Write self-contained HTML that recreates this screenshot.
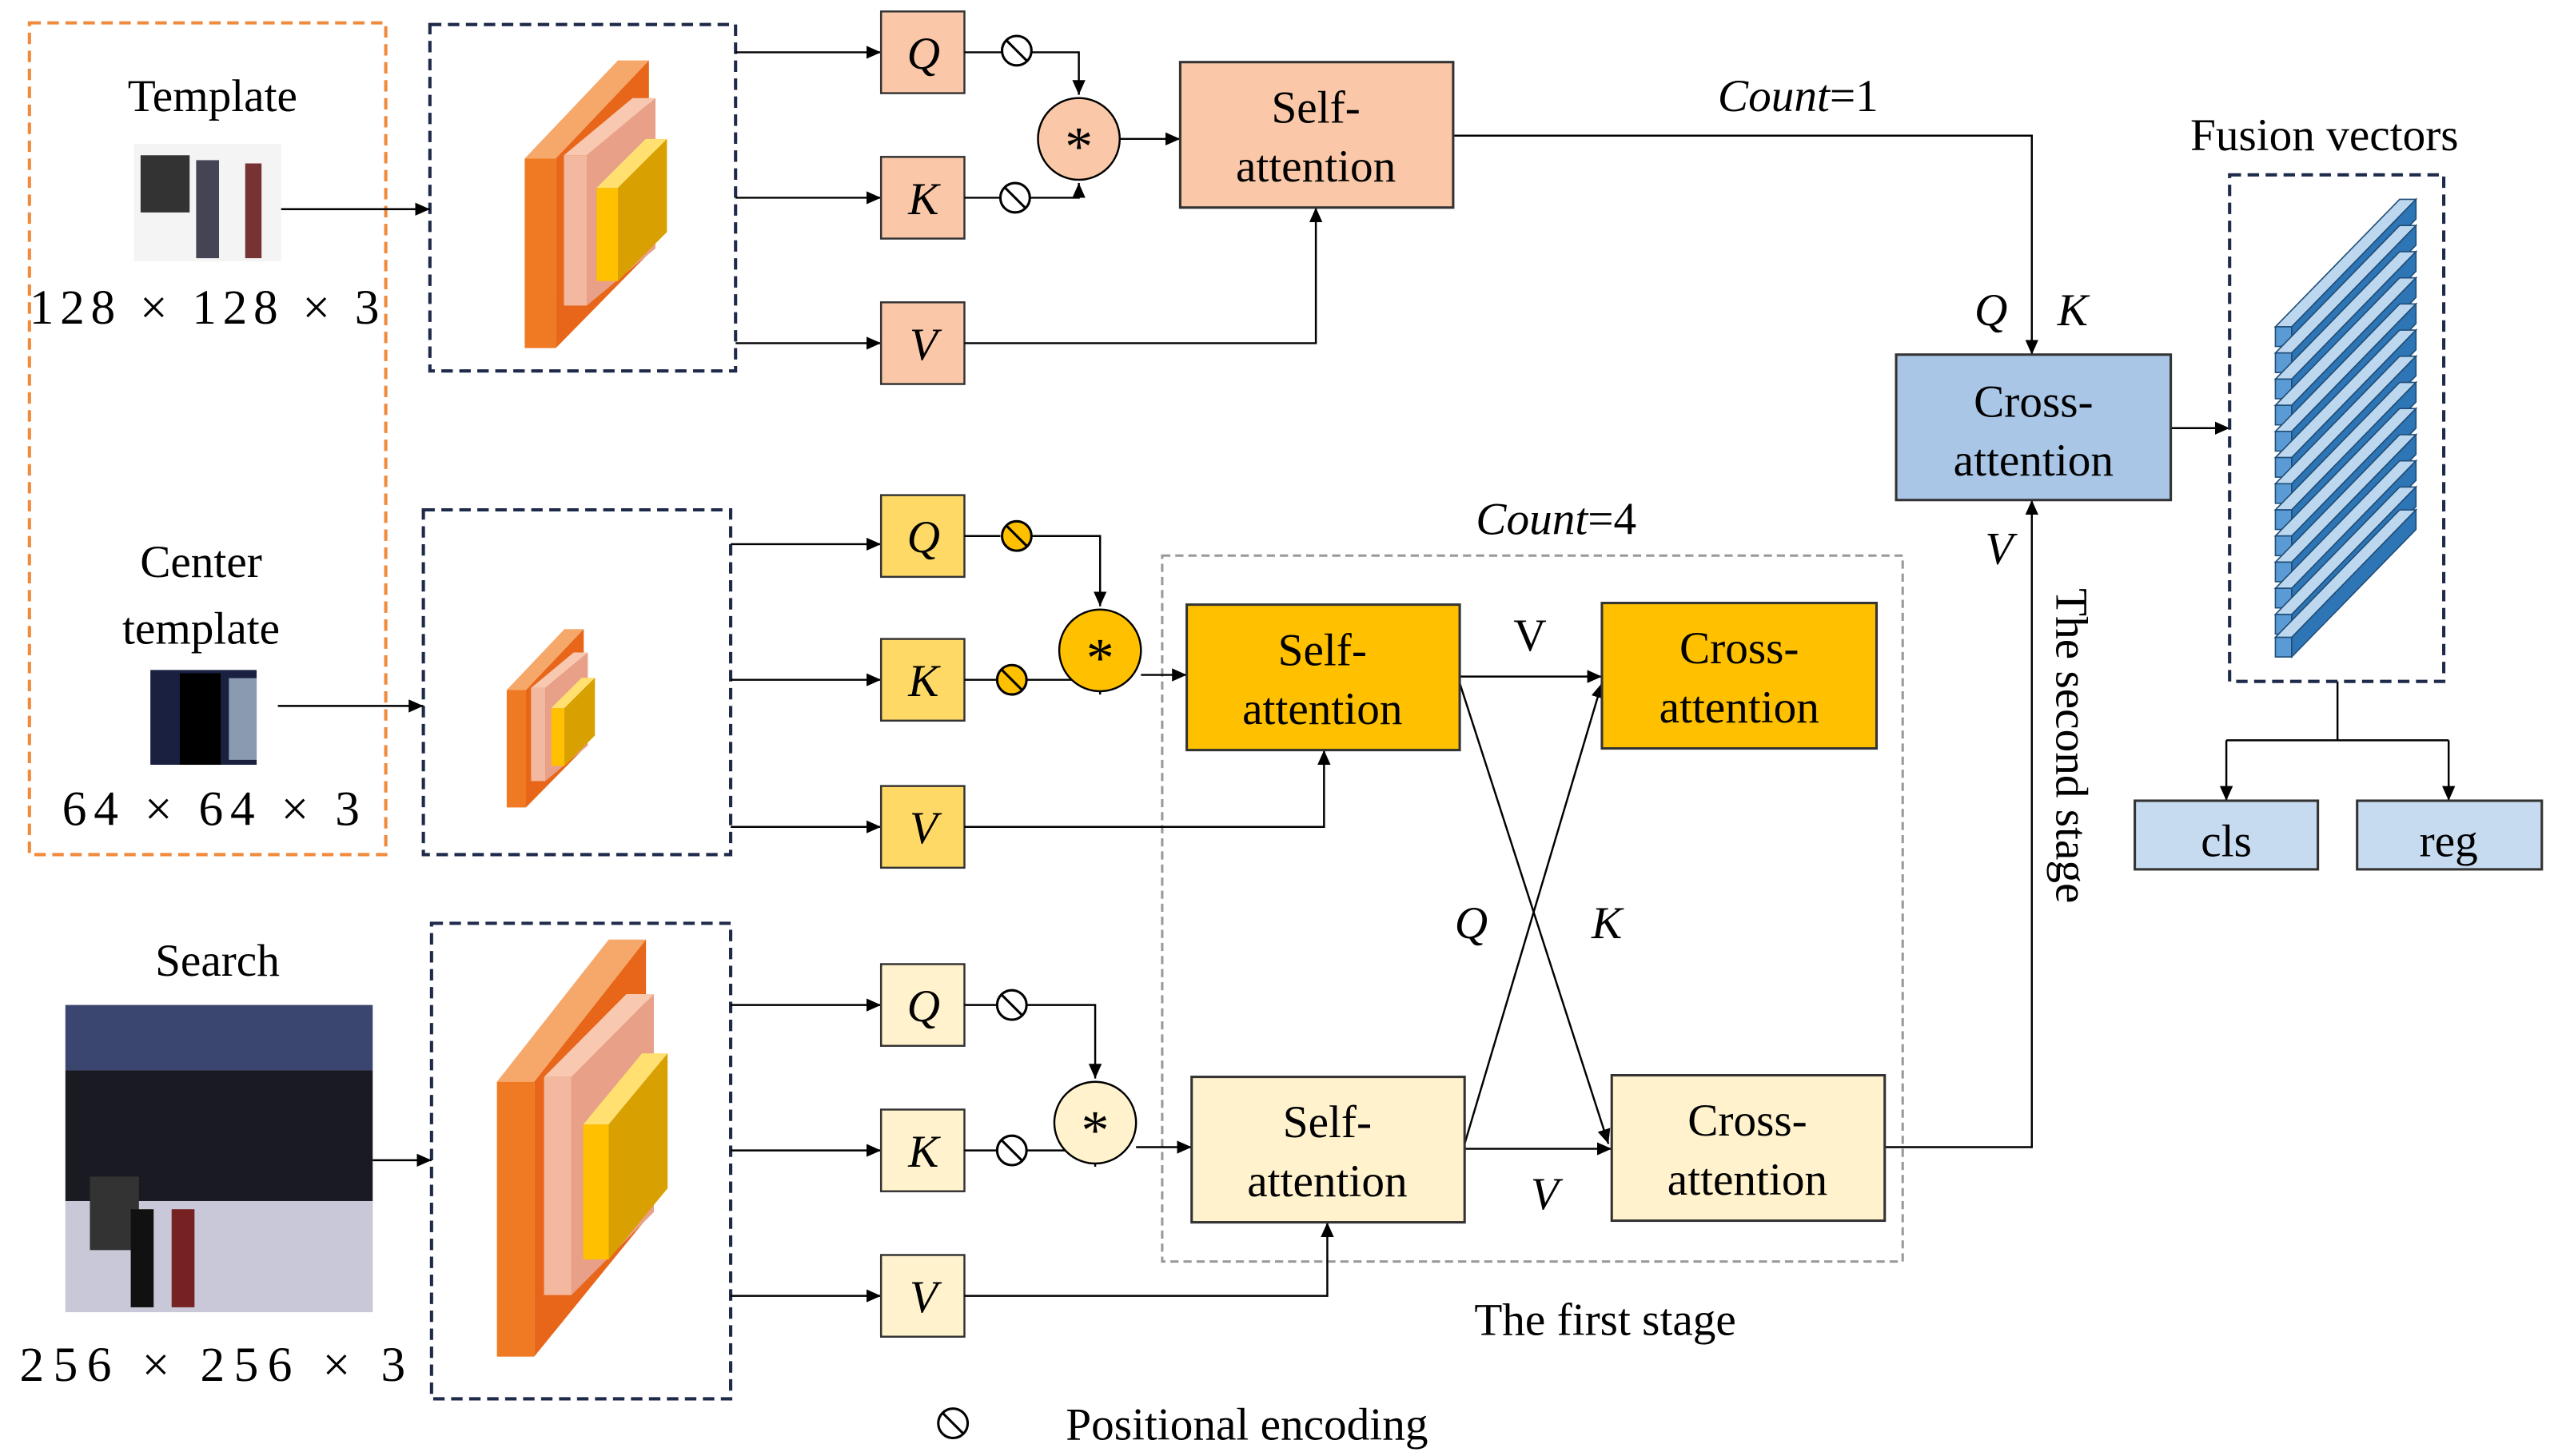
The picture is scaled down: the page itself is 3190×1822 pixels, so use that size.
<!DOCTYPE html>
<html><head><meta charset="utf-8"><style>html,body{margin:0;padding:0;background:#fff}svg{display:block}</style></head><body>
<svg width="3190" height="1822" viewBox="0 0 1560 891" xmlns="http://www.w3.org/2000/svg" font-family="Liberation Serif, serif">
<defs>
<marker id="a" markerWidth="10" markerHeight="10" refX="9" refY="5" orient="auto" markerUnits="userSpaceOnUse"><path d="M0,1 L9,5 L0,9 z" fill="#000"/></marker>
<g id="pe"><circle r="9" fill="none" stroke="#000" stroke-width="1.5"/><path d="M-6,-6 L6,6" stroke="#000" stroke-width="1.5"/></g>
</defs>
<rect x="18" y="14" width="218" height="509" fill="none" stroke="#F08A3C" stroke-width="2" stroke-dasharray="7,4"/>
<text x="130" y="68" font-size="28" text-anchor="middle">Template</text>
<rect x="82" y="88" width="90" height="72" fill="#f4f4f4"/>
<rect x="86" y="95" width="30" height="35" fill="#333"/><rect x="120" y="98" width="14" height="60" fill="#445"/><rect x="150" y="100" width="10" height="58" fill="#733"/>
<text x="18" y="198" font-size="30" textLength="214" lengthAdjust="spacing">128 × 128 × 3</text>
<text x="123" y="353" font-size="28" text-anchor="middle">Center</text>
<text x="123" y="394" font-size="28" text-anchor="middle">template</text>
<rect x="92" y="410" width="65" height="58" fill="#1a2040"/><rect x="110" y="412" width="25" height="56" fill="#000"/><rect x="140" y="415" width="17" height="50" fill="#8a9ab0"/>
<text x="38" y="505" font-size="30" textLength="182" lengthAdjust="spacing">64 × 64 × 3</text>
<text x="133" y="597" font-size="28" text-anchor="middle">Search</text>
<rect x="40" y="615" width="188" height="188" fill="#ddd"/>
<rect x="40" y="615" width="188" height="40" fill="#3a4570"/>
<rect x="40" y="655" width="188" height="80" fill="#1a1a22"/>
<rect x="40" y="735" width="188" height="68" fill="#c8c8d8"/>
<rect x="55" y="720" width="30" height="45" fill="#333"/><rect x="80" y="740" width="14" height="60" fill="#111"/><rect x="105" y="740" width="14" height="60" fill="#722"/>
<text x="12" y="845" font-size="30" textLength="236" lengthAdjust="spacing">256 × 256  × 3</text>
<g fill="none" stroke="#1F2A4A" stroke-width="2" stroke-dasharray="7,4">
<rect x="263" y="15" width="187" height="212"/><rect x="259" y="312" width="188" height="211"/><rect x="264" y="565" width="183" height="291"/>
</g>
<g stroke="#000" stroke-width="1.2" fill="none" marker-end="url(#a)">
<path d="M172,128 H263"/><path d="M170,432 H259"/><path d="M228,710 H264"/>
<path d="M450,32 H539"/><path d="M450,121 H539"/><path d="M450,210 H539"/>
<path d="M447,333 H539"/><path d="M447,416 H539"/><path d="M447,506 H539"/>
<path d="M447,615 H539"/><path d="M447,704 H539"/><path d="M447,793 H539"/>
</g>
<g>
<polygon points="321,97 378,37 397,37 340,97" fill="#F6A86A"/><polygon points="340,97 397,37 397,155 340,213" fill="#E8661A"/><rect x="321" y="97" width="19" height="116" fill="#F07A24"/>
<polygon points="345,95 387,60 401,60 359,95" fill="#F8C8B0"/><rect x="345" y="95" width="14" height="92" fill="#F2B8A0"/><polygon points="359,95 401,60 401,152 359,187" fill="#E8A088"/>
<polygon points="365,115 395,85 408,85 378,115" fill="#FFE070"/><rect x="365" y="115" width="13" height="57" fill="#FFC000"/><polygon points="378,115 408,85 408,142 378,172" fill="#D8A000"/>
</g>
<g transform="translate(310,385) scale(0.62) translate(-321,-37)">
<polygon points="321,97 378,37 397,37 340,97" fill="#F6A86A"/><polygon points="340,97 397,37 397,155 340,213" fill="#E8661A"/><rect x="321" y="97" width="19" height="116" fill="#F07A24"/>
<polygon points="345,95 387,60 401,60 359,95" fill="#F8C8B0"/><rect x="345" y="95" width="14" height="92" fill="#F2B8A0"/><polygon points="359,95 401,60 401,152 359,187" fill="#E8A088"/>
<polygon points="365,115 395,85 408,85 378,115" fill="#FFE070"/><rect x="365" y="115" width="13" height="57" fill="#FFC000"/><polygon points="378,115 408,85 408,142 378,172" fill="#D8A000"/>
</g>
<g transform="translate(304,575) scale(1.2,1.45) translate(-321,-37)">
<polygon points="321,97 378,37 397,37 340,97" fill="#F6A86A"/><polygon points="340,97 397,37 397,155 340,213" fill="#E8661A"/><rect x="321" y="97" width="19" height="116" fill="#F07A24"/>
<polygon points="345,95 387,60 401,60 359,95" fill="#F8C8B0"/><rect x="345" y="95" width="14" height="92" fill="#F2B8A0"/><polygon points="359,95 401,60 401,152 359,187" fill="#E8A088"/>
<polygon points="365,115 395,85 408,85 378,115" fill="#FFE070"/><rect x="365" y="115" width="13" height="57" fill="#FFC000"/><polygon points="378,115 408,85 408,142 378,172" fill="#D8A000"/>
</g>
<rect x="711" y="340" width="453" height="432" fill="none" stroke="#999" stroke-width="1.5" stroke-dasharray="5,3"/>
<g stroke="#333" stroke-width="1.2">
<g fill="#FAC8A8"><rect x="539" y="7" width="51" height="50"/><rect x="539" y="96" width="51" height="50"/><rect x="539" y="185" width="51" height="50"/></g>
<g fill="#FFD966"><rect x="539" y="303" width="51" height="50"/><rect x="539" y="391" width="51" height="50"/><rect x="539" y="481" width="51" height="50"/></g>
<g fill="#FFF2CC"><rect x="539" y="590" width="51" height="50"/><rect x="539" y="679" width="51" height="50"/><rect x="539" y="768" width="51" height="50"/></g>
</g>
<g font-size="28" font-style="italic" text-anchor="middle">
<text x="565" y="42">Q</text><text x="565" y="131">K</text><text x="565" y="220">V</text>
<text x="565" y="338">Q</text><text x="565" y="426">K</text><text x="565" y="516">V</text>
<text x="565" y="625">Q</text><text x="565" y="714">K</text><text x="565" y="803">V</text>
</g>
<g stroke="#000" stroke-width="1.2" fill="none">
<path d="M590,32 H613"/><path d="M631,32 H660 V58" marker-end="url(#a)"/><path d="M590,121 H612"/><path d="M630,121 H660 V112" marker-end="url(#a)"/>
<path d="M685,85 H722" marker-end="url(#a)"/><path d="M590,210 H805 V127" marker-end="url(#a)"/>
<path d="M590,328 H612"/><path d="M630,328 H673 V371" marker-end="url(#a)"/><path d="M590,416 H610"/><path d="M628,416 H673 V425" marker-end="url(#a)"/>
<path d="M698,413 H726" marker-end="url(#a)"/><path d="M590,506 H810 V459" marker-end="url(#a)"/>
<path d="M590,615 H610"/><path d="M628,615 H670 V660" marker-end="url(#a)"/><path d="M590,704 H610"/><path d="M628,704 H670 V714" marker-end="url(#a)"/>
<path d="M695,702 H729" marker-end="url(#a)"/><path d="M590,793 H812 V748" marker-end="url(#a)"/>
<path d="M893,414 H980" marker-end="url(#a)"/><path d="M896,703 H986" marker-end="url(#a)"/>
<path d="M893,418 L984,700" marker-end="url(#a)"/><path d="M896,700 L980,418" marker-end="url(#a)"/>
<path d="M889,83 H1243 V217" marker-end="url(#a)"/><path d="M1153,702 H1243 V306" marker-end="url(#a)"/>
<path d="M1328,262 H1364" marker-end="url(#a)"/>
<path d="M1430,417 V453 M1362,453 H1498"/><path d="M1362,453 V490" marker-end="url(#a)"/><path d="M1498,453 V490" marker-end="url(#a)"/>
</g>
<g fill="#fff"><use href="#pe" x="622" y="31"/><use href="#pe" x="621" y="121"/><use href="#pe" x="619" y="615"/><use href="#pe" x="619" y="704"/><use href="#pe" x="583" y="871"/></g>
<g fill="#FFC000"><circle cx="622" cy="328" r="9" stroke="#000" stroke-width="1.5"/><circle cx="619" cy="416" r="9" stroke="#000" stroke-width="1.5"/></g>
<path d="M616,322 L628,334 M613,410 L625,422" stroke="#000" stroke-width="1.5"/>
<circle cx="660" cy="85" r="25" fill="#FAC8A8" stroke="#000" stroke-width="1.2"/>
<circle cx="673" cy="398" r="25" fill="#FFC000" stroke="#000" stroke-width="1.2"/>
<circle cx="670" cy="687" r="25" fill="#FFF2CC" stroke="#000" stroke-width="1.2"/>
<g font-size="34" text-anchor="middle"><text x="660" y="101">*</text><text x="673" y="414">*</text><text x="670" y="703">*</text></g>
<g stroke="#333" stroke-width="1.5">
<rect x="722" y="38" width="167" height="89" fill="#FAC8A8"/>
<rect x="726" y="370" width="167" height="89" fill="#FFC000"/><rect x="980" y="369" width="168" height="89" fill="#FFC000"/>
<rect x="729" y="659" width="167" height="89" fill="#FFF2CC"/><rect x="986" y="658" width="167" height="89" fill="#FFF2CC"/>
<rect x="1160" y="217" width="168" height="89" fill="#A9C6E6"/>
<rect x="1306" y="490" width="112" height="42" fill="#C6DAF0"/><rect x="1442" y="490" width="113" height="42" fill="#C6DAF0"/>
</g>
<g font-size="28" text-anchor="middle">
<text x="805" y="75">Self-</text><text x="805" y="111">attention</text>
<text x="809" y="407">Self-</text><text x="809" y="443">attention</text>
<text x="1064" y="406">Cross-</text><text x="1064" y="442">attention</text>
<text x="812" y="696">Self-</text><text x="812" y="732">attention</text>
<text x="1069" y="695">Cross-</text><text x="1069" y="731">attention</text>
<text x="1244" y="255">Cross-</text><text x="1244" y="291">attention</text>
<text x="1362" y="524">cls</text><text x="1498" y="524">reg</text>
<text x="1422" y="92">Fusion vectors</text>
<text x="982" y="817">The first stage</text>
<text x="652" y="881" text-anchor="start">Positional encoding</text>
<text x="936" y="398">V</text>
</g>
<g font-size="28" font-style="italic" text-anchor="middle">
<text x="1100" y="68">Count<tspan font-style="normal">=1</tspan></text>
<text x="952" y="327">Count<tspan font-style="normal">=4</tspan></text>
<text x="1218" y="199">Q</text><text x="1268" y="199">K</text><text x="1223" y="345">V</text>
<text x="900" y="574">Q</text><text x="983" y="574">K</text><text x="945" y="740">V</text>
</g>
<text transform="translate(1258,360) rotate(90)" font-size="28">The second stage</text>
<rect x="1364" y="107" width="131" height="310" fill="none" stroke="#1F2A4A" stroke-width="2" stroke-dasharray="7,4"/>
<g stroke="#1F4E79" stroke-width="0.8">
<g id="bar"><polygon points="1392,200 1402,200 1478,122 1468,122" fill="#BDD7EE"/><polygon points="1392,200 1402,200 1402,212 1392,212" fill="#5B9BD5"/><polygon points="1402,200 1478,122 1478,134 1402,212" fill="#2E75B6"/></g>
<use href="#bar" y="16"/><use href="#bar" y="32"/><use href="#bar" y="48"/><use href="#bar" y="64"/><use href="#bar" y="80"/><use href="#bar" y="96"/><use href="#bar" y="112"/><use href="#bar" y="128"/><use href="#bar" y="144"/><use href="#bar" y="160"/><use href="#bar" y="176"/><use href="#bar" y="190"/>
</g>
</svg>
</body></html>
